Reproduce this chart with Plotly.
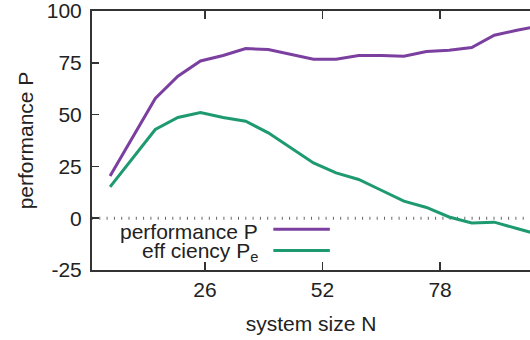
import plotly.graph_objects as go

# data
N = [5, 10, 15, 20, 25, 30, 35, 40, 45, 50, 55, 60, 65, 70, 75, 80, 85, 90, 95, 100]
performance = [20.4, 39.0, 57.8, 68.5, 75.9, 78.5, 81.9, 81.4, 79.1, 76.7, 76.7, 78.5, 78.5,
               78.2, 80.4, 81.1, 82.4, 88.3, 90.7, 92.8]
efficiency = [15.1, 29.0, 42.8, 48.6, 51.0, 48.6, 46.8, 41.2, 33.9, 26.7, 21.9, 18.7, 13.5,
              8.2, 5.2, 0.6, -2.3, -1.9, -5.0, -8.0]
x_ticks = [26, 52, 78]
y_ticks = [-25, 0, 25, 50, 75, 100]
y_tick_labels = ["-25", "0", "25", "50", "75", "100"]
series_names = ["performance P", "eff ciency P<sub>e</sub>"]
colors = ["#7b3fa0", "#1e9a70"]

FONT = "Liberation Sans, Arial, Helvetica, sans-serif"
FS = 21

fig = go.Figure()
for name, vals, col in zip(series_names, [performance, efficiency], colors):
    fig.add_trace(go.Scatter(x=N, y=vals, mode="lines", name=name,
                             line=dict(color=col, width=3), showlegend=False,
                             hoverinfo="skip"))

# zero axis (dotted)
fig.add_shape(type="line", xref="paper", yref="y", x0=0, x1=1, y0=0, y1=0,
              line=dict(color="#666666", width=3, dash="1px,6.3px"), layer="below")

# legend drawn gnuplot style: text right-aligned, sample to the right
leg_text_y = [0.148, 0.071]
leg_line_y = [0.157, 0.075]
for name, col, ty, ly in zip(series_names, colors, leg_text_y, leg_line_y):
    fig.add_annotation(xref="paper", yref="paper", x=0.384, y=ty, text=name,
                       showarrow=False, xanchor="right", yanchor="middle",
                       font=dict(family=FONT, size=FS, color="#222222"))
    fig.add_shape(type="line", xref="paper", yref="paper", x0=0.414, x1=0.543,
                  y0=ly, y1=ly, line=dict(color=col, width=3))

fig.update_layout(
    width=530, height=340,
    margin=dict(l=92, r=0, t=11, b=70, autoexpand=False),
    paper_bgcolor="white", plot_bgcolor="white",
    font=dict(family=FONT, size=FS, color="#222222"),
    showlegend=False,
)
fig.update_xaxes(
    range=[1, 97.9], tickvals=x_ticks, ticks="inside", ticklen=8, tickwidth=1.5,
    tickcolor="#333333", showline=True, linecolor="#333333", linewidth=2,
    mirror="ticks", showgrid=False, zeroline=False, automargin=False,
    title=dict(text="system size N", standoff=16, font=dict(size=FS)),
    ticklabelstandoff=0, ticklabeloverflow="allow",
)
fig.update_yaxes(
    range=[-25, 100], tickvals=y_ticks, ticktext=y_tick_labels, ticks="inside",
    ticklen=7, tickwidth=1.5,
    tickcolor="#333333", showline=True, linecolor="#333333", linewidth=2,
    mirror=False, showgrid=False, zeroline=False, automargin=False,
    title=dict(text="performance P", standoff=7, font=dict(size=FS)),
    ticklabelstandoff=4, ticklabeloverflow="allow",
)

# remove the default 8px page margin so the figure fills the window exactly
fig.write_html("out.html", config={"displayModeBar": False, "staticPlot": True},
               post_script="document.body.style.margin='0';")
